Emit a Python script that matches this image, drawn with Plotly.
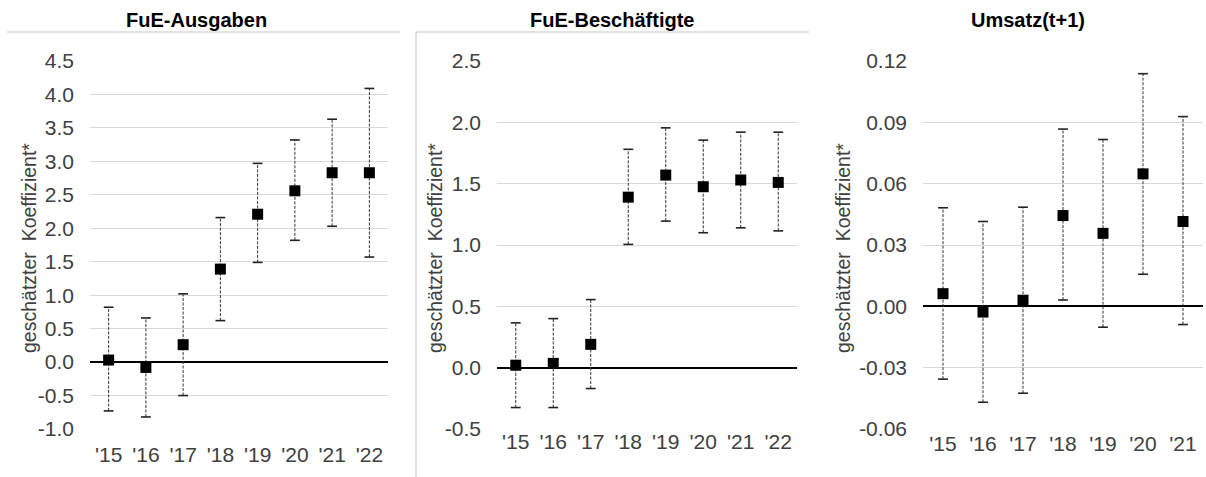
import plotly.graph_objects as go

# ---- data ----
years_a = ["'15", "'16", "'17", "'18", "'19", "'20", "'21", "'22"]
ausgaben_coef = [0.03, -0.08, 0.26, 1.39, 2.21, 2.56, 2.83, 2.83]
ausgaben_lo = [-0.73, -0.82, -0.50, 0.62, 1.49, 1.82, 2.03, 1.57]
ausgaben_hi = [0.82, 0.66, 1.02, 2.16, 2.97, 3.32, 3.63, 4.09]

years_b = ["'15", "'16", "'17", "'18", "'19", "'20", "'21", "'22"]
besch_coef = [0.02, 0.035, 0.19, 1.39, 1.57, 1.475, 1.53, 1.51]
besch_lo = [-0.325, -0.325, -0.17, 1.005, 1.195, 1.10, 1.14, 1.115]
besch_hi = [0.365, 0.40, 0.555, 1.78, 1.955, 1.855, 1.92, 1.92]

years_c = ["'15", "'16", "'17", "'18", "'19", "'20", "'21"]
umsatz_coef = [0.0062, -0.0028, 0.003, 0.0444, 0.0357, 0.0648, 0.0415]
umsatz_lo = [-0.0356, -0.0469, -0.0425, 0.0031, -0.0102, 0.0157, -0.0089]
umsatz_hi = [0.0482, 0.0415, 0.0485, 0.0867, 0.0816, 0.1138, 0.0928]

yticks_a = [-1.0, -0.5, 0.0, 0.5, 1.0, 1.5, 2.0, 2.5, 3.0, 3.5, 4.0, 4.5]
yticks_b = [-0.5, 0.0, 0.5, 1.0, 1.5, 2.0, 2.5]
yticks_c = [-0.06, -0.03, 0.00, 0.03, 0.06, 0.09, 0.12]

titles = ["FuE-Ausgaben", "FuE-Beschäftigte", "Umsatz(t+1)"]
ytitle = "geschätzter\u00a0 Koeffizient*"

W, H = 1206, 477
FONT = "Arial, Liberation Sans, sans-serif"
TICKC = "#404040"

panels = [
    dict(cats=years_a, coef=ausgaben_coef, lo=ausgaben_lo, hi=ausgaben_hi, tv=yticks_a,
         x0=90, x1=388, dec=1, tx=196, ytx=29, xso=11),
    dict(cats=years_b, coef=besch_coef, lo=besch_lo, hi=besch_hi, tv=yticks_b,
         x0=497, x1=797, dec=1, tx=612, ytx=435, xso=-2),
    dict(cats=years_c, coef=umsatz_coef, lo=umsatz_lo, hi=umsatz_hi, tv=yticks_c,
         x0=923, x1=1203, dec=2, tx=1028, ytx=843, xso=0),
]

fig = go.Figure()
ytop, ybot = 61, 429
ann = []
for i, p in enumerate(panels):
    sfx = "" if i == 0 else str(i + 1)
    xa, ya = "x" + sfx, "y" + sfx
    # dashed whiskers
    wx, wy = [], []
    for c, l, h in zip(p["cats"], p["lo"], p["hi"]):
        wx += [c, c, None]
        wy += [l, h, None]
    fig.add_trace(go.Scatter(x=wx, y=wy, mode="lines", xaxis=xa, yaxis=ya,
                             line=dict(color="#333333", width=1, dash="3px,1.5px"),
                             hoverinfo="skip", showlegend=False, cliponaxis=False))
    # caps
    fig.add_trace(go.Scatter(x=p["cats"] + p["cats"], y=p["lo"] + p["hi"], mode="markers",
                             xaxis=xa, yaxis=ya,
                             marker=dict(symbol="line-ew", size=7,
                                         line=dict(color="#222222", width=1.6)),
                             hoverinfo="skip", showlegend=False, cliponaxis=False))
    # points
    fig.add_trace(go.Scatter(x=p["cats"], y=p["coef"], mode="markers", xaxis=xa, yaxis=ya,
                             marker=dict(symbol="square", size=11, color="black"),
                             showlegend=False, cliponaxis=False))
    xd = [p["x0"] / W, p["x1"] / W]
    yd = [1 - ybot / H, 1 - ytop / H]
    ttext = [f"{v:.{p['dec']}f}".replace("-0.00", "0.00") for v in p["tv"]]
    fig.layout["xaxis" + sfx] = dict(
        domain=xd, anchor=ya, type="category", range=[-0.5, len(p["cats"]) - 0.5],
        showgrid=False, zeroline=False, showline=False, ticks="", automargin=False,
        tickfont=dict(family=FONT, size=21, color=TICKC), ticklabelstandoff=p["xso"])
    fig.layout["yaxis" + sfx] = dict(
        domain=yd, anchor=xa, range=[p["tv"][0], p["tv"][-1]],
        tickmode="array", tickvals=p["tv"], ticktext=ttext,
        showgrid=True, gridcolor="#d9d9d9", gridwidth=1,
        zeroline=True, zerolinecolor="black", zerolinewidth=2, showline=False, ticks="",
        automargin=False,
        tickfont=dict(family=FONT, size=21, color=TICKC), ticklabelstandoff=15)
    ann.append(dict(text="<b>" + titles[i] + "</b>", x=p["tx"] / W, y=1 - 20 / H,
                    xref="paper", yref="paper", showarrow=False, xanchor="center",
                    yanchor="middle", font=dict(family=FONT, size=20, color="black")))
    ann.append(dict(text=ytitle, x=p["ytx"] / W, y=1 - 248 / H, xref="paper", yref="paper",
                    showarrow=False, textangle=-90, xanchor="center", yanchor="middle",
                    font=dict(family=FONT, size=19.5, color=TICKC)))

BC = "#c6c6c6"
shapes = [
    dict(type="line", xref="paper", yref="paper", x0=7 / W, x1=400 / W,
         y0=1 - 32 / H, y1=1 - 32 / H, line=dict(color=BC, width=1)),
    dict(type="line", xref="paper", yref="paper", x0=416 / W, x1=809 / W,
         y0=1 - 32 / H, y1=1 - 32 / H, line=dict(color=BC, width=1)),
    dict(type="line", xref="paper", yref="paper", x0=416 / W, x1=416 / W,
         y0=1 - 32 / H, y1=0, line=dict(color=BC, width=1)),
]

fig.update_layout(width=W, height=H, margin=dict(l=0, r=0, t=0, b=0, autoexpand=False),
                  paper_bgcolor="white", plot_bgcolor="white",
                  annotations=ann, shapes=shapes, showlegend=False,
                  font=dict(family=FONT))
fig.write_html("out.html", config={"displayModeBar": False},
               post_script="document.body.style.margin='0';document.body.style.overflow='hidden';")
